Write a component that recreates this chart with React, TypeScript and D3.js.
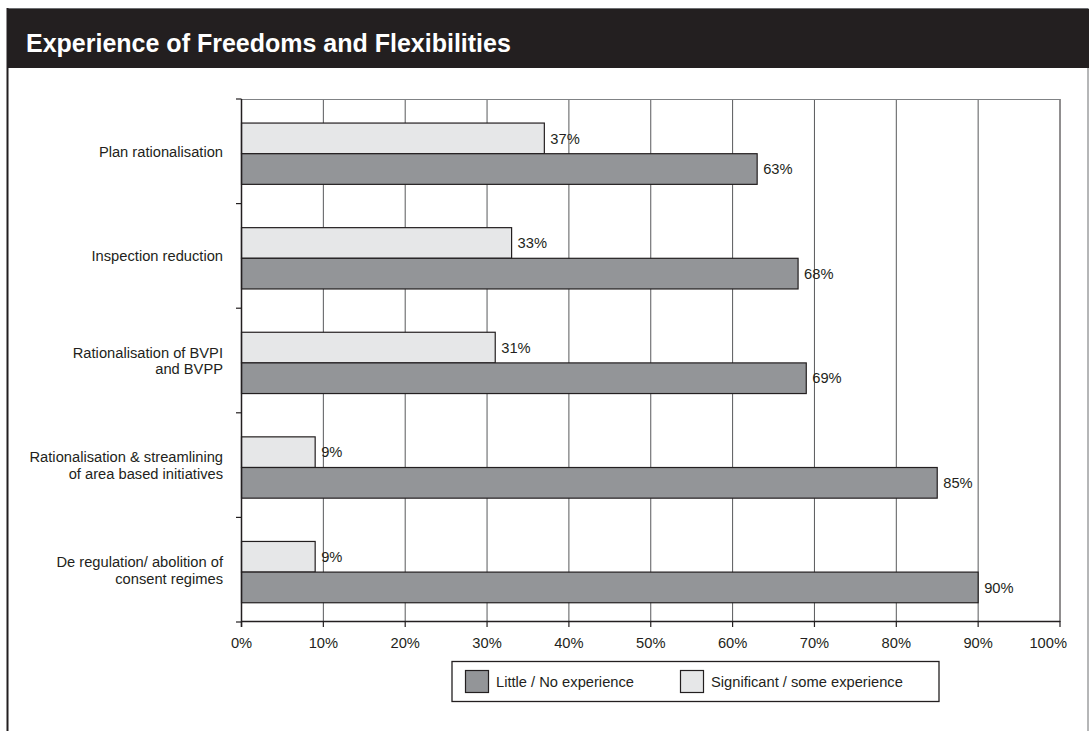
import React from "react";
import * as d3 from "d3";

const categories = [
  "Plan rationalisation",
  "Inspection reduction",
  "Rationalisation of BVPI\nand BVPP",
  "Rationalisation & streamlining\nof area based initiatives",
  "De regulation/ abolition of\nconsent regimes",
];
const significant = [37, 33, 31, 9, 9];
const little = [63, 68, 69, 85, 90];
const seriesNames = ["Little / No experience", "Significant / some experience"];
const xTicks = [0, 10, 20, 30, 40, 50, 60, 70, 80, 90, 100];

const W = 1090;
const H = 731;
const FONT = "'Liberation Sans', Arial, Helvetica, sans-serif";
const INK = "#231f20";
const DARK = "#939598";
const LIGHT = "#e6e7e8";
const GRID = "#58595b";

export default function App() {
  const x = d3.scaleLinear().domain([0, 100]).range([241.5, 1060]);
  const y = d3.scaleBand<string>().domain(categories).range([99, 622]).padding(0);
  const bw = y.bandwidth();
  const inner = d3
    .scaleBand<string>()
    .domain(["sig", "little"])
    .range([bw * 0.23, bw * 0.816])
    .padding(0);
  const ih = inner.bandwidth();
  const fmt = (v: number) => `${v}%`;
  const boundaries = categories.map((c) => y(c) as number).concat([622]);
  const FS = 14.7;

  return (
    <svg
      width={W}
      height={H}
      style={{ position: "absolute", left: 0, top: 0, background: "#fff" }}
      fontFamily={FONT}
    >
      {/* frame */}
      <rect x={0} y={0} width={W} height={H} fill="#fff" />
      <line x1={1088} x2={1088} y1={8} y2={H} stroke="#6d6e71" strokeWidth={1} />
      <line x1={7.5} x2={1088} y1={8.5} y2={8.5} stroke="#6d6e71" strokeWidth={1} />
      <rect x={7} y={9} width={1082} height={59} fill={INK} />
      <line x1={7.5} x2={7.5} y1={8} y2={H} stroke={INK} strokeWidth={2} />
      <text x={26} y={52} fill="#fff" fontSize={25} fontWeight="bold">
        Experience of Freedoms and Flexibilities
      </text>

      {/* grid */}
      {xTicks.slice(1).map((t) => (
        <line
          key={"g" + t}
          x1={x(t)}
          x2={x(t)}
          y1={99}
          y2={622}
          stroke={t === 100 ? INK : GRID}
          strokeWidth={1}
        />
      ))}
      <line x1={x(0)} x2={x(100)} y1={99.5} y2={99.5} stroke="#808285" strokeWidth={1} />

      {/* bars */}
      {categories.map((c, i) => {
        const y0 = y(c) as number;
        const ys = y0 + (inner("sig") as number);
        const yl = y0 + (inner("little") as number);
        return (
          <g key={c}>
            <rect
              x={x(0)}
              y={ys}
              width={x(significant[i]) - x(0)}
              height={ih}
              fill={LIGHT}
              stroke={INK}
              strokeWidth={1.2}
            />
            <rect
              x={x(0)}
              y={yl}
              width={x(little[i]) - x(0)}
              height={ih}
              fill={DARK}
              stroke={INK}
              strokeWidth={1.2}
            />
            <text
              x={x(significant[i]) + 6}
              y={ys + ih / 2}
              dy="0.35em"
              fontSize={FS}
              fill={INK}
            >
              {fmt(significant[i])}
            </text>
            <text
              x={x(little[i]) + 6}
              y={yl + ih / 2}
              dy="0.35em"
              fontSize={FS}
              fill={INK}
            >
              {fmt(little[i])}
            </text>
            {(() => {
              const lines = c.split("\n");
              const cy = y0 + (inner("little") as number) - 2;
              const lh = 16.7;
              return lines.map((ln, k) => (
                <text
                  key={k}
                  x={223}
                  y={cy + (k - (lines.length - 1) / 2) * lh}
                  dy="0.35em"
                  textAnchor="end"
                  fontSize={FS}
                  fill={INK}
                >
                  {ln}
                </text>
              ));
            })()}
          </g>
        );
      })}

      {/* axes */}
      <line x1={x(0)} x2={x(0)} y1={99} y2={627} stroke={INK} strokeWidth={1.5} />
      <line x1={x(0)} x2={x(100)} y1={621.5} y2={621.5} stroke={INK} strokeWidth={1.5} />
      {boundaries.map((b, i) => (
        <line key={"lt" + i} x1={236} x2={x(0)} y1={b} y2={b} stroke={INK} strokeWidth={1.2} />
      ))}
      {xTicks.map((t, i) => {
        const last = i === xTicks.length - 1;
        return (
          <g key={"xt" + t}>
            <line x1={x(t)} x2={x(t)} y1={621} y2={627} stroke={INK} strokeWidth={1.2} />
            <text
              x={last ? x(t) + 7 : x(t)}
              y={648}
              textAnchor={last ? "end" : "middle"}
              fontSize={FS}
              fill={INK}
            >
              {fmt(t)}
            </text>
          </g>
        );
      })}

      {/* legend */}
      <rect x={452} y={661.5} width={487} height={40} fill="#fff" stroke={INK} strokeWidth={1.3} />
      <rect x={465.5} y={670.5} width={23} height={22} fill={DARK} stroke={INK} strokeWidth={1.2} />
      <text x={496} y={682} dy="0.35em" fontSize={FS} fill={INK}>
        {seriesNames[0]}
      </text>
      <rect x={680.5} y={670.5} width={23} height={22} fill={LIGHT} stroke={INK} strokeWidth={1.2} />
      <text x={711} y={682} dy="0.35em" fontSize={FS} fill={INK}>
        {seriesNames[1]}
      </text>
    </svg>
  );
}
